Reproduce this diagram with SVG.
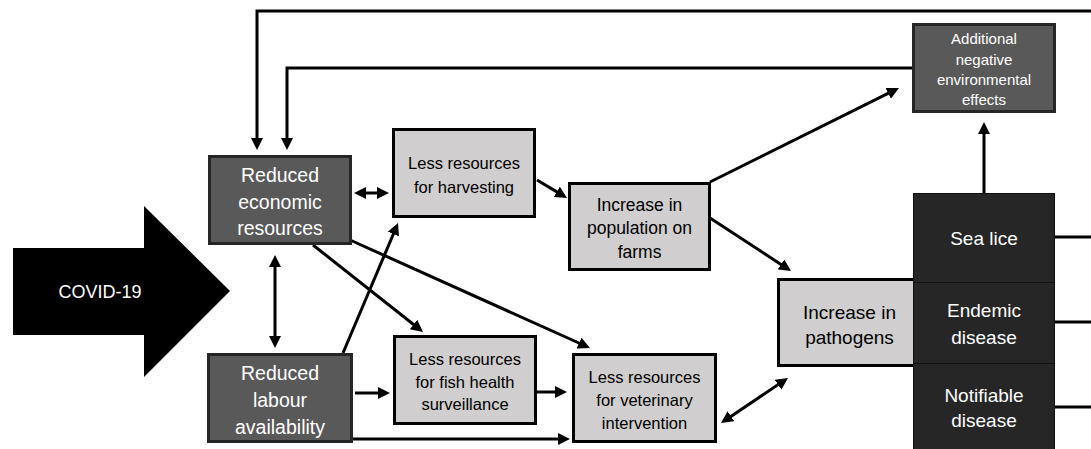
<svg xmlns="http://www.w3.org/2000/svg" width="1091" height="449" viewBox="0 0 1091 449">
<style>
.t{font-family:"Liberation Sans",Arial,sans-serif;text-anchor:middle}
.w{fill:#ffffff}
.k{fill:#000000}
.dk{fill:#595959;stroke:#262626;stroke-width:3}
.lt{fill:#d0cece;stroke:#000000;stroke-width:3}
.bl{fill:#262626;stroke:#111111;stroke-width:1}
.c{fill:none;stroke:#000000;stroke-width:3}
</style>
<defs>
<marker id="ah" viewBox="0 0 12 12" refX="6" refY="6" markerWidth="12" markerHeight="12" markerUnits="userSpaceOnUse" orient="auto-start-reverse">
<path d="M0,0 L12,6 L0,12 z" fill="#000000"/>
</marker>
</defs>
<rect width="1091" height="449" fill="#ffffff"/>

<g id="covid">
<polygon points="13,248 144,248 144,206 230,291 144,377 144,335 13,335" fill="#000000"/>
<text class="t w" x="100" y="298" font-size="18">COVID-19</text>
</g>

<g id="connectors">
<path class="c" d="M1091,11 H257 V144" marker-end="url(#ah)"/>
<path class="c" d="M912,68 H287 V144" marker-end="url(#ah)"/>
<line class="c" x1="360" y1="193" x2="383" y2="193" marker-start="url(#ah)" marker-end="url(#ah)"/>
<line class="c" x1="275" y1="261" x2="275" y2="342" marker-start="url(#ah)" marker-end="url(#ah)"/>
<line class="c" x1="537" y1="180" x2="561.9" y2="194.9" marker-end="url(#ah)"/>
<line class="c" x1="710" y1="182" x2="893.6" y2="90.7" marker-end="url(#ah)"/>
<line class="c" x1="984" y1="193" x2="984" y2="128" marker-end="url(#ah)"/>
<line class="c" x1="710" y1="218" x2="786" y2="267.7" marker-end="url(#ah)"/>
<line class="c" x1="726" y1="419.65" x2="783" y2="381.35" marker-start="url(#ah)" marker-end="url(#ah)"/>
<line class="c" x1="343" y1="353" x2="395.7" y2="228.5" marker-end="url(#ah)"/>
<line class="c" x1="355" y1="393" x2="384" y2="393" marker-end="url(#ah)"/>
<line class="c" x1="352" y1="439" x2="564" y2="439" marker-end="url(#ah)"/>
<line class="c" x1="537" y1="392" x2="561" y2="392" marker-end="url(#ah)"/>
<line class="c" x1="313" y1="245" x2="418.3" y2="328.3" marker-end="url(#ah)"/>
<line class="c" x1="350" y1="240" x2="584.5" y2="345.5" marker-end="url(#ah)"/>
<line class="c" x1="1054" y1="237" x2="1091" y2="237"/>
<line class="c" x1="1054" y1="322" x2="1091" y2="322"/>
<line class="c" x1="1054" y1="407" x2="1091" y2="407"/>
</g>

<g id="economic">
<rect class="dk" x="209.5" y="156.5" width="141" height="87"/>
<text class="t w" font-size="19.5"><tspan x="280" y="182">Reduced</tspan><tspan x="280" y="209">economic</tspan><tspan x="280" y="235">resources</tspan></text>
</g>

<g id="labour">
<rect class="dk" x="208.5" y="354.5" width="143" height="87"/>
<text class="t w" font-size="19.5"><tspan x="280" y="380">Reduced</tspan><tspan x="280" y="407">labour</tspan><tspan x="280" y="434">availability</tspan></text>
</g>

<g id="harvesting">
<rect class="lt" x="393.5" y="129.5" width="141" height="87"/>
<text class="t k" font-size="16.5"><tspan x="464" y="169">Less resources</tspan><tspan x="464" y="193">for harvesting</tspan></text>
</g>

<g id="population">
<rect class="lt" x="569.5" y="183.5" width="140" height="86"/>
<text class="t k" font-size="17.5"><tspan x="639.5" y="211">Increase in</tspan><tspan x="639.5" y="234">population on</tspan><tspan x="639.5" y="258">farms</tspan></text>
</g>

<g id="fish">
<rect class="lt" x="394.5" y="336.5" width="141" height="87"/>
<text class="t k" font-size="16.5"><tspan x="465" y="365">Less resources</tspan><tspan x="465" y="388">for fish health</tspan><tspan x="465" y="410">surveillance</tspan></text>
</g>

<g id="veterinary">
<rect class="lt" x="573.5" y="354.5" width="142" height="87"/>
<text class="t k" font-size="16.5"><tspan x="644.5" y="383">Less resources</tspan><tspan x="644.5" y="406">for veterinary</tspan><tspan x="644.5" y="429">intervention</tspan></text>
</g>

<g id="additional">
<rect class="dk" x="913.5" y="24.5" width="141" height="87" stroke="#000000"/>
<text class="t w" font-size="15"><tspan x="984" y="44">Additional</tspan><tspan x="984" y="65">negative</tspan><tspan x="984" y="85">environmental</tspan><tspan x="984" y="105">effects</tspan></text>
</g>

<g id="pathogens">
<rect class="lt" x="778.5" y="279.5" width="140" height="86"/>
<text class="t k" font-size="19"><tspan x="849.5" y="318.5">Increase in</tspan><tspan x="849.5" y="343.5">pathogens</tspan></text>
</g>

<g id="sealice">
<rect class="bl" x="913.5" y="193.5" width="141" height="89"/>
<text class="t w" font-size="19" x="984" y="244.5">Sea lice</text>
</g>

<g id="endemic">
<rect class="bl" x="913.5" y="282.5" width="141" height="81"/>
<text class="t w" font-size="19"><tspan x="984" y="316.5">Endemic</tspan><tspan x="984" y="343.5">disease</tspan></text>
</g>

<g id="notifiable">
<rect class="bl" x="913.5" y="363.5" width="141" height="90"/>
<text class="t w" font-size="19"><tspan x="984" y="401.5">Notifiable</tspan><tspan x="984" y="426.5">disease</tspan></text>
</g>
</svg>
